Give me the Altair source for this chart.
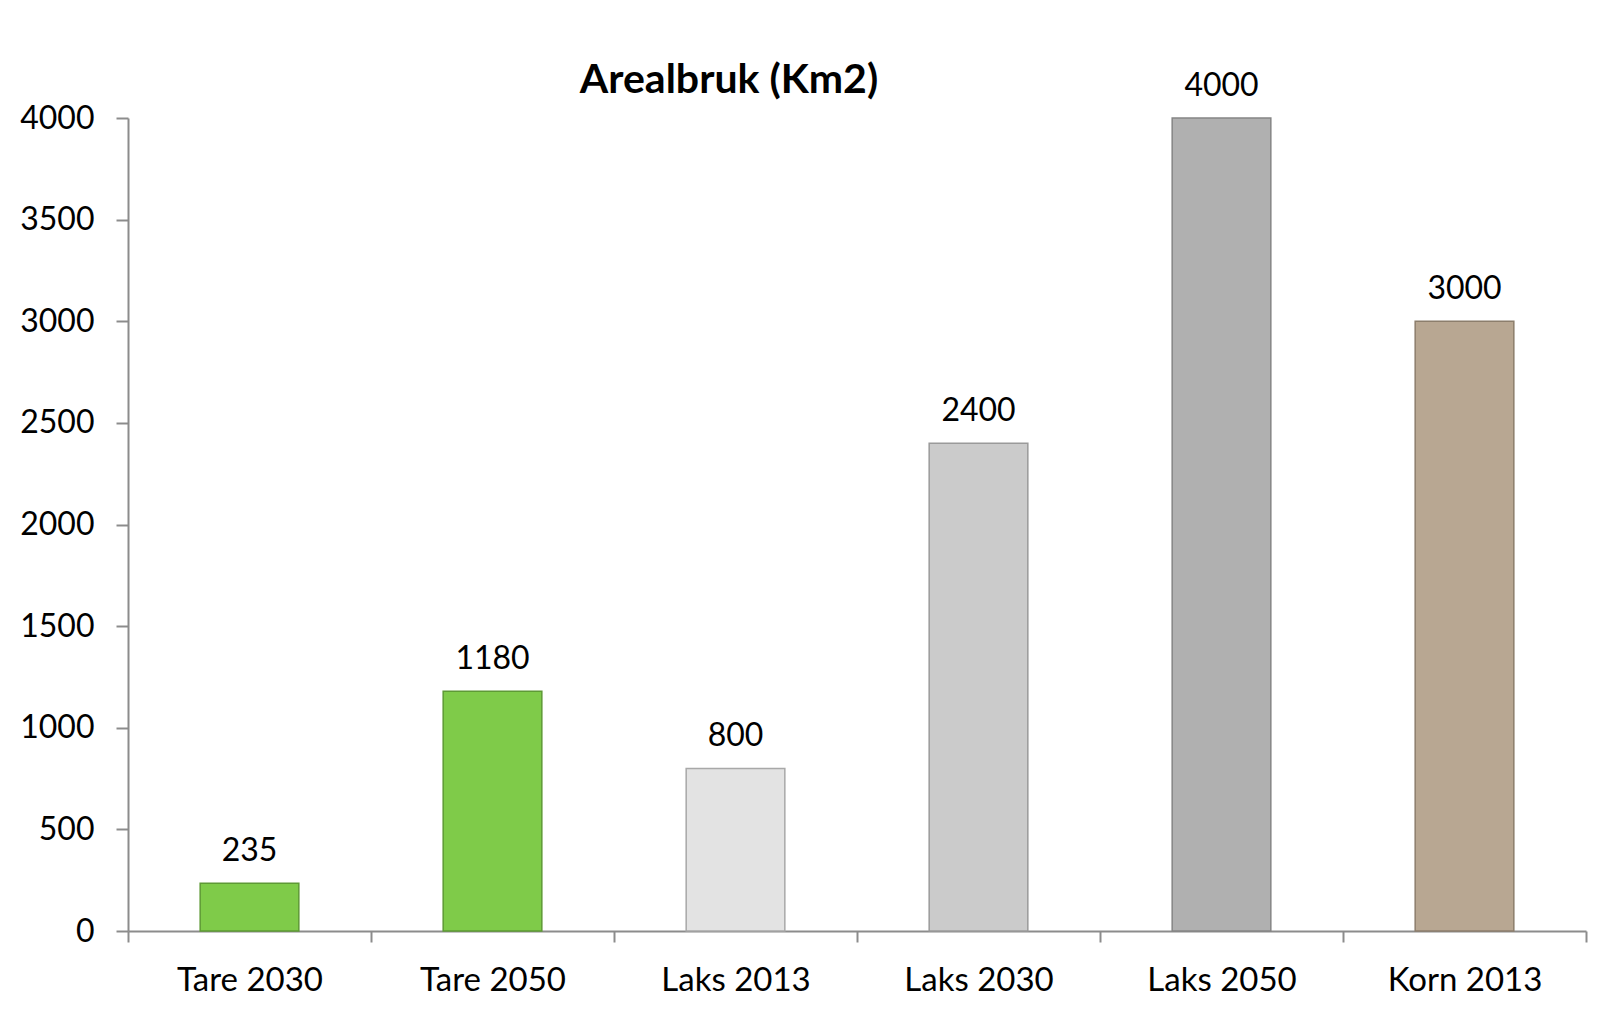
import altair as alt
import pandas as pd

categories = ["Tare 2030", "Tare 2050", "Laks 2013", "Laks 2030", "Laks 2050", "Korn 2013"]
values = [235, 1180, 800, 2400, 4000, 3000]
fills = ["#7fcb49", "#7fcb49", "#e3e3e3", "#cbcbcb", "#b0b0b0", "#b8a792"]
strokes = ["#5e9a35", "#5e9a35", "#a8a8a8", "#9a9a9a", "#858585", "#8c7e6c"]
y_ticks = [0, 500, 1000, 1500, 2000, 2500, 3000, 3500, 4000]

df = pd.DataFrame({"cat": categories, "val": values, "fill": fills, "stroke": strokes})

FONT = "Lato"

x = alt.X(
    "cat:N",
    sort=categories,
    title=None,
    scale=alt.Scale(paddingInner=0, paddingOuter=0),
    axis=alt.Axis(
        labelAngle=0,
        labelFont=FONT,
        labelFontSize=33,
        labelColor="#000000",
        labelPadding=22,
        tickSize=11,
        tickBand="extent",
        tickColor="#8c8c8c",
        tickWidth=2,
        domainColor="#8c8c8c",
        domainWidth=2,
        grid=False,
    ),
)
y = alt.Y(
    "val:Q",
    title=None,
    scale=alt.Scale(domain=[0, 4000], nice=False),
    axis=alt.Axis(
        values=y_ticks,
        format="d",
        labelFont=FONT,
        labelFontSize=32,
        labelColor="#000000",
        labelPadding=22,
        tickSize=12,
        tickColor="#8c8c8c",
        tickWidth=2,
        domainColor="#8c8c8c",
        domainWidth=2,
        grid=False,
    ),
)

bars = alt.Chart(df).mark_bar(
    strokeWidth=1.5, width=alt.RelativeBandSize(0.406)
).encode(
    x=x,
    y=y,
    fill=alt.Fill("fill:N", scale=None),
    stroke=alt.Stroke("stroke:N", scale=None),
)

labels = alt.Chart(df).mark_text(
    font=FONT, fontSize=32, color="#000000", baseline="alphabetic", dy=-22
).encode(
    x=alt.X("cat:N", sort=categories),
    y=alt.Y("val:Q"),
    text=alt.Text("val:Q", format="d"),
)

chart = (
    alt.layer(bars, labels)
    .properties(
        width=1458,
        height=813,
        autosize=alt.AutoSizeParams(type="none"),
        padding={"left": 120, "top": 110, "right": 20, "bottom": 80},
        background="#ffffff",
        title=alt.TitleParams(
            "Arealbruk (Km2)",
            font=FONT,
            fontSize=41,
            fontWeight="bold",
            color="#000000",
            anchor="middle",
            offset=18,
            dx=-128,
            dy=50,
        ),
    )
    .configure_view(stroke=None)
)

chart.save("out.html", embed_options={"renderer": "svg", "actions": False})
